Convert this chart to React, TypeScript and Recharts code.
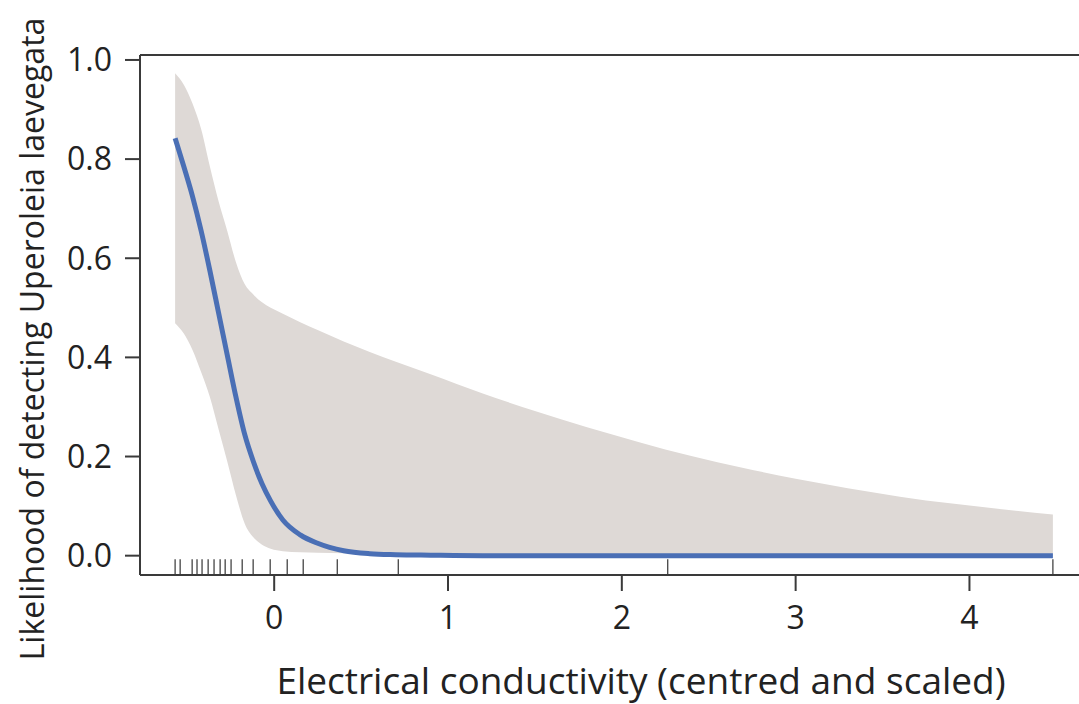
import {
  ComposedChart,
  Area,
  Line,
  XAxis,
  YAxis,
  ReferenceLine,
} from 'recharts';

// values
const xGrid = [
  -0.57, -0.52, -0.47, -0.42, -0.37, -0.32, -0.27, -0.22, -0.17, -0.12, -0.07,
  -0.02, 0.05, 0.15, 0.25, 0.4, 0.55, 0.7, 0.9, 1.2, 1.5, 1.8, 2.1, 2.4, 2.7,
  3.0, 3.3, 3.6, 3.9, 4.2, 4.48,
];
const fitValues = [
  0.842, 0.785, 0.725, 0.655, 0.575, 0.49, 0.405, 0.32, 0.245, 0.19, 0.145,
  0.11, 0.072, 0.042, 0.025, 0.01, 0.004, 0.002, 0.001, 0, 0, 0, 0, 0, 0, 0, 0,
  0, 0, 0, 0,
];
const lowerValues = [
  0.469, 0.448, 0.415, 0.37, 0.32, 0.255, 0.19, 0.122, 0.065, 0.037, 0.022,
  0.014, 0.009, 0.007, 0.006, 0.005, 0.004, 0.003, 0.001, 0, 0, 0, 0, 0, 0, 0,
  0, 0, 0, 0, 0,
];
const upperValues = [
  0.973, 0.95, 0.912, 0.86, 0.785, 0.715, 0.655, 0.592, 0.548, 0.527, 0.511,
  0.5, 0.488, 0.471, 0.455, 0.432, 0.411, 0.391, 0.366, 0.327, 0.292, 0.259,
  0.229, 0.201, 0.177, 0.155, 0.136, 0.119, 0.105, 0.093, 0.083,
];
const rugValues = [
  -0.57, -0.541, -0.472, -0.444, -0.415, -0.38, -0.346, -0.311, -0.282, -0.248,
  -0.184, -0.121, -0.023, 0.075, 0.167, 0.363, 0.714, 2.264, 4.48,
];
const xTicks = [0, 1, 2, 3, 4];
const yTicks = [0, 0.2, 0.4, 0.6, 0.8, 1.0];

const X_MIN = -0.772;
const X_MAX = 4.682;
const Y_MIN = -0.039;
const Y_MAX = 1.01;

const data = xGrid.map((x, i) => ({
  x,
  fit: fitValues[i],
  band: [lowerValues[i], upperValues[i]],
}));

const FONT = '"Open Sans", sans-serif';
const AXIS = '#3a3a3a';

export default function App() {
  return (
    <div
      style={{
        position: 'absolute',
        left: 0,
        top: 0,
        width: 1079,
        height: 704,
        overflow: 'hidden',
        background: '#fff',
      }}
    >
      <ComposedChart
        width={1100}
        height={704}
        data={data}
        margin={{ top: 55, right: 12, left: 80, bottom: 29 }}
      >
        <XAxis
          dataKey="x"
          type="number"
          domain={[X_MIN, X_MAX]}
          allowDataOverflow
          ticks={xTicks}
          height={100}
          tickSize={16}
          tickMargin={15}
          axisLine={{ stroke: AXIS, strokeWidth: 2 }}
          tickLine={{ stroke: AXIS, strokeWidth: 2 }}
          tick={{ fill: '#222', fontSize: 32, fontFamily: FONT }}
        />
        <YAxis
          type="number"
          domain={[Y_MIN, Y_MAX]}
          allowDataOverflow
          ticks={yTicks}
          width={60}
          tickSize={15}
          tickMargin={13}
          tickFormatter={(v: number) => v.toFixed(1)}
          axisLine={{ stroke: AXIS, strokeWidth: 2 }}
          tickLine={{ stroke: AXIS, strokeWidth: 2 }}
          tick={{ fill: '#222', fontSize: 32, fontFamily: FONT }}
        />
        <ReferenceLine y={Y_MAX} stroke={AXIS} strokeWidth={2} ifOverflow="visible" />
        <Area
          dataKey="band"
          type="monotone"
          stroke="none"
          fill="#ded9d6"
          fillOpacity={1}
          isAnimationActive={false}
        />
        <Line
          dataKey="fit"
          type="monotone"
          stroke="#4a6fb5"
          strokeWidth={5}
          dot={false}
          isAnimationActive={false}
        />
        {rugValues.map((v, i) => (
          <ReferenceLine
            key={`rug-${i}`}
            segment={[
              { x: v, y: Y_MIN },
              { x: v, y: Y_MIN + 0.032 },
            ]}
            stroke="#444"
            strokeWidth={1.3}
            ifOverflow="visible"
          />
        ))}
        <text
          x={641}
          y={694}
          textAnchor="middle"
          fontSize={37}
          fontFamily={FONT}
          fill="#222"
        >
          Electrical conductivity (centred and scaled)
        </text>
        <text
          x={44}
          y={339}
          transform="rotate(-90, 44, 339)"
          textAnchor="middle"
          fontSize={32}
          fontFamily={FONT}
          fill="#222"
        >
          Likelihood of detecting Uperoleia laevegata
        </text>
      </ComposedChart>
    </div>
  );
}
